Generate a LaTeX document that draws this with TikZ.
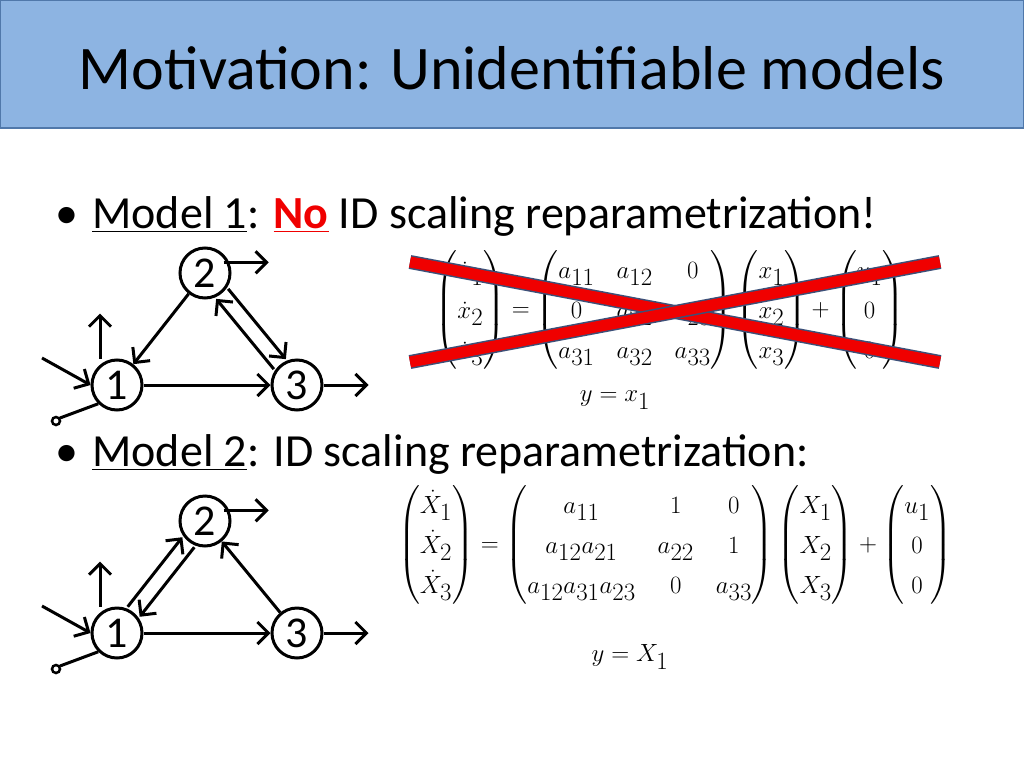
\documentclass[tikz,border=0pt]{standalone}
\usepackage{amsmath}
\usepackage{fontspec}
\setmainfont{Carlito}
\usetikzlibrary{arrows.meta,calc}
\definecolor{titlefill}{RGB}{141,180,226}
\definecolor{titleline}{RGB}{80,120,170}
\definecolor{crossred}{RGB}{240,0,0}
\definecolor{crossline}{RGB}{60,80,120}
\setlength\arraycolsep{11pt}
\tikzset{
  state/.style={circle, draw, line width=3pt, minimum size=50pt, inner sep=0pt, font=\fontsize{44}{44}\selectfont},
  flow/.style={line width=3pt, -{Straight Barb[length=11pt,width=22pt,line width=3pt]}},
  bullet/.style={anchor=base west, font=\fontsize{46}{52}\selectfont},
  eqn/.style={font=\fontsize{34}{40}\selectfont}
}
\begin{document}
\begin{tikzpicture}[x=1pt,y=-1pt]
  \useasboundingbox (0,0) rectangle (1024,768);
  \fill[white] (0,0) rectangle (1024,768);
  % title
  \draw[fill=titlefill, draw=titleline, line width=1.5pt] (0,0) rectangle (1024,128);
  \node[font=\fontsize{62}{66}\selectfont] (title) at (512,68) {Motivation: Unidentifiable models};
  % bullets
  \node[bullet] (b1) at (52,228) {•\hspace{14pt}\underline{Model 1}: \textcolor{crossred}{\textbf{\underline{No}}} ID scaling reparametrization!};
  \node[bullet] (b2) at (52,466) {•\hspace{14pt}\underline{Model 2}: ID scaling reparametrization:};
  % model 1 graph
  \node[state] (a2) at (205,273) {2};
  \node[state] (a1) at (117,385) {1};
  \node[state] (a3) at (297,385) {3};
  \draw[flow] (a2) -- (a1);
  \draw[flow] ($(a2)!27pt!(a3)+(6,-5)$) -- ($(a3)!27pt!(a2)+(6,-5)$);
  \draw[flow] ($(a3)!27pt!(a2)+(-6,5)$) -- ($(a2)!27pt!(a3)+(-6,5)$);
  \draw[flow] (a1) -- (a3);
  \draw[flow] ([xshift=-17pt]a1.north) -- ++(0,-45);
  \coordinate (in1) at (42,358);
  \draw[flow] (in1) -- (a1.west);
  \draw[flow] (a3.east) -- ++(45,0);
  \draw[flow] ([yshift=-8pt]a2.north east) -- ++(45,0);
  \draw[line width=3pt] (a1.south west) -- (60,418);
  \draw[line width=2.5pt, fill=white] (56,421) circle (4pt);
  % model 2 graph
  \node[state] (c2) at (205,521) {2};
  \node[state] (c1) at (117,633) {1};
  \node[state] (c3) at (297,633) {3};
  \draw[flow] ($(c1)!27pt!(c2)+(-6,-5)$) -- ($(c2)!27pt!(c1)+(-6,-5)$);
  \draw[flow] ($(c2)!27pt!(c1)+(6,5)$) -- ($(c1)!27pt!(c2)+(6,5)$);
  \draw[flow] (c3) -- (c2);
  \draw[flow] (c1) -- (c3);
  \draw[flow] ([xshift=-17pt]c1.north) -- ++(0,-45);
  \coordinate (in2) at (42,606);
  \draw[flow] (in2) -- (c1.west);
  \draw[flow] (c3.east) -- ++(45,0);
  \draw[flow] ([yshift=-8pt]c2.north east) -- ++(45,0);
  \draw[line width=3pt] (c1.south west) -- (60,666);
  \draw[line width=2.5pt, fill=white] (56,669) circle (4pt);
  % equations
  \node[eqn] (eq1) at (670,310) {$\begin{pmatrix}\dot x_1\\ \dot x_2\\ \dot x_3\end{pmatrix}=\begin{pmatrix}a_{11}&a_{12}&0\\0&a_{22}&a_{23}\\a_{31}&a_{32}&a_{33}\end{pmatrix}\begin{pmatrix}x_1\\x_2\\x_3\end{pmatrix}+\begin{pmatrix}u_1\\0\\0\end{pmatrix}$};
  \node[eqn] (y1) at (615,400) {$y=x_1$};
  \node[eqn] (eq2) at (675,545) {$\begin{pmatrix}\dot X_1\\ \dot X_2\\ \dot X_3\end{pmatrix}=\begin{pmatrix}a_{11}&1&0\\a_{12}a_{21}&a_{22}&1\\a_{12}a_{31}a_{23}&0&a_{33}\end{pmatrix}\begin{pmatrix}X_1\\X_2\\X_3\end{pmatrix}+\begin{pmatrix}u_1\\0\\0\end{pmatrix}$};
  \node[eqn] (y2) at (630,657) {$y=X_1$};
  % cross
  \foreach \p/\q in {{(410,262)}/{(940,362)},{(410,362)}/{(940,262)}}{
    \draw[crossline, line width=14pt] \p -- \q;
    \draw[crossred, line width=11pt] \p -- \q;
  }
\end{tikzpicture}
\end{document}
